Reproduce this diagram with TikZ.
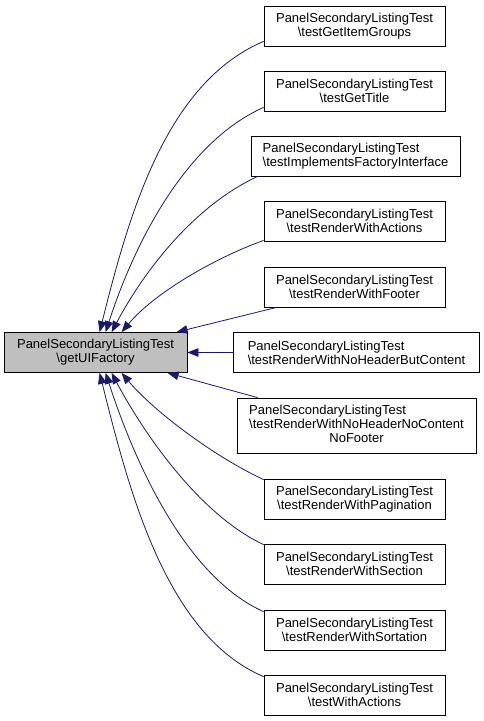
\documentclass[tikz,border=0pt]{standalone}
\usepackage{fontspec}
\newfontfamily\lsans{Liberation Sans}
\usetikzlibrary{arrows.meta}
\definecolor{edgeblue}{HTML}{191970}
\definecolor{nodegray}{HTML}{BFBFBF}
\tikzset{
  box/.style={draw=black, line width=0.8pt, fill=white, inner xsep=0pt, inner ysep=0pt,
    minimum width=181pt, minimum height=40pt, align=center,
    font=\lsans\fontsize{13pt}{14pt}\selectfont},
  mainbox/.style={box, fill=nodegray, minimum width=183pt},
  edge/.style={draw=edgeblue, line width=0.8pt, -{Triangle[length=11pt,width=8.5pt]}}
}
\begin{document}
\begin{tikzpicture}[x=1pt,y=1pt]
\useasboundingbox (0,0) rectangle (483,-721);
\node[mainbox] (main) at (95.5,-352.5) {PanelSecondaryListingTest\\\textbackslash getUIFactory};
\node[box] (b1) at (354.5,-26) {PanelSecondaryListingTest\\\textbackslash testGetItemGroups};
\node[box] (b2) at (354.5,-91) {PanelSecondaryListingTest\\\textbackslash testGetTitle};
\node[box, minimum width=209pt, align=left] (b3) at (355.5,-156) {PanelSecondaryListingTest\\\textbackslash testImplementsFactoryInterface};
\node[box] (b4) at (354.5,-221) {PanelSecondaryListingTest\\\textbackslash testRenderWithActions};
\node[box] (b5) at (354.5,-287) {PanelSecondaryListingTest\\\textbackslash testRenderWithFooter};
\node[box, minimum width=246pt, align=left] (b6) at (356.5,-352.5) {PanelSecondaryListingTest\\\textbackslash testRenderWithNoHeaderButContent};
\node[box, minimum width=239pt, minimum height=55pt] (b7) at (356.5,-425.5) {\renewcommand\arraystretch{1}\begin{tabular}{@{}l@{}}PanelSecondaryListingTest\\\textbackslash testRenderWithNoHeaderNoContent\\\multicolumn{1}{@{}c@{}}{NoFooter}\end{tabular}};
\node[box] (b8) at (354.5,-499) {PanelSecondaryListingTest\\\textbackslash testRenderWithPagination};
\node[box] (b9) at (354.5,-564) {PanelSecondaryListingTest\\\textbackslash testRenderWithSection};
\node[box] (b10) at (354.5,-630) {PanelSecondaryListingTest\\\textbackslash testRenderWithSortation};
\node[box] (b11) at (354.5,-695) {PanelSecondaryListingTest\\\textbackslash testWithActions};

\draw[edge] ([yshift=5pt]b1.south west) .. controls +(203:106) and +(76:122) .. ([xshift=96pt]main.north west);
\draw[edge] ([yshift=4pt]b2.south west) .. controls +(204:85) and +(72:95) .. ([xshift=102pt]main.north west);
\draw[edge] ([xshift=7pt]b3.south west) .. controls +(205:70) and +(62:70) .. ([xshift=108pt]main.north west);
\draw[edge] ([yshift=1pt]b4.south west) .. controls +(200:55) and +(50:50) .. ([xshift=118pt]main.north west);
\draw[edge] ([xshift=13pt]b5.south west) -- ([xshift=173pt]main.north west);
\draw[edge] (b6.west) -- (main.east);
\draw[edge] ([xshift=21pt]b7.north west) -- ([xshift=164pt]main.south west);
\draw[edge] ([yshift=-1pt]b8.north west) .. controls +(155:55) and +(310:50) .. ([xshift=118pt]main.south west);
\draw[edge] ([yshift=-1pt]b9.north west) .. controls +(155:70) and +(298:70) .. ([xshift=108pt]main.south west);
\draw[edge] ([yshift=-2pt]b10.north west) .. controls +(156:85) and +(288:95) .. ([xshift=102pt]main.south west);
\draw[edge] ([yshift=-2pt]b11.north west) .. controls +(157:106) and +(284:122) .. ([xshift=96pt]main.south west);
\end{tikzpicture}
\end{document}
